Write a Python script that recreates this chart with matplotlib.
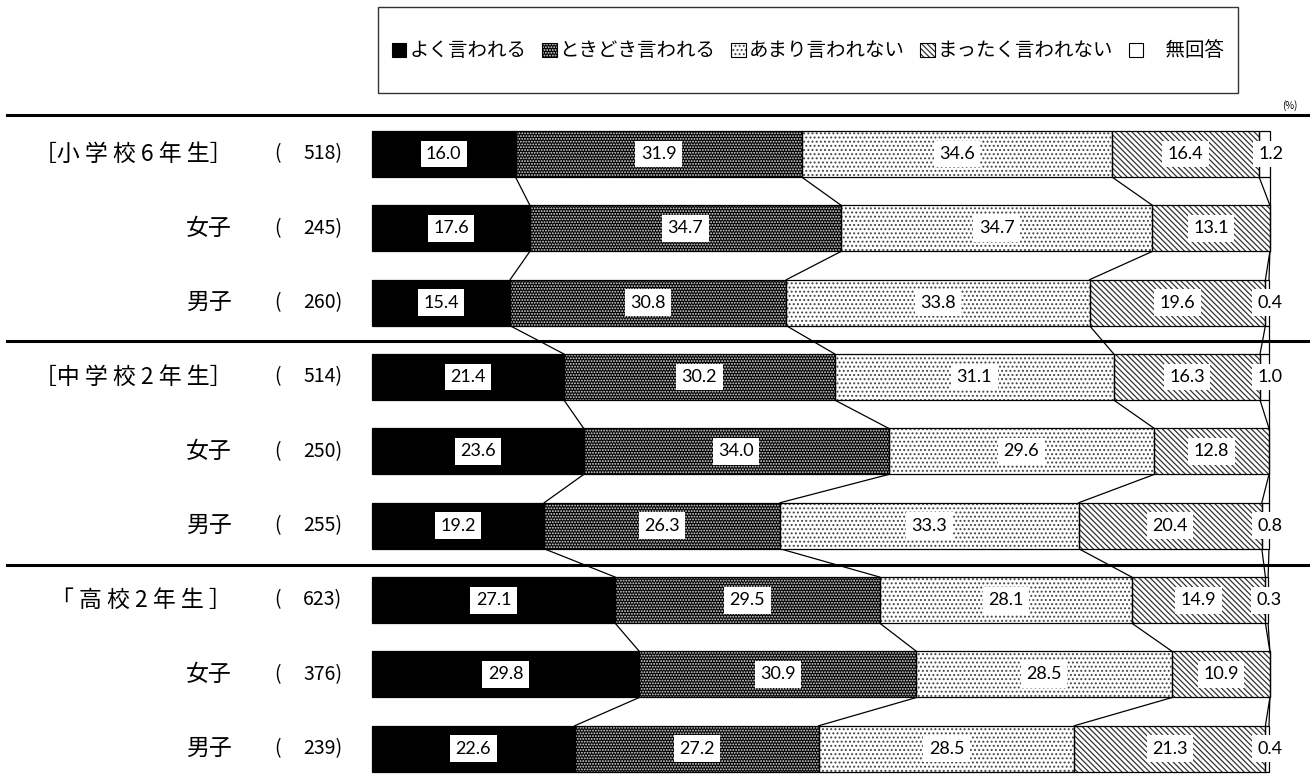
import matplotlib.pyplot as plt
from matplotlib.patches import Patch, Rectangle
from matplotlib.transforms import blended_transform_factory
import numpy as np

plt.rcParams['font.family'] = ['Noto Sans CJK JP', 'DejaVu Sans']
plt.rcParams['hatch.linewidth'] = 0.9

categories = ['よく言われる', 'ときどき言われる', 'あまり言われない', 'まったく言われない', '　無回答']
row_labels = ['［小 学 校 6 年 生］', '女子', '男子',
              '［中 学 校 2 年 生］', '女子', '男子',
              '「 高 校 2 年 生 ］', '女子', '男子']
counts = [518, 245, 260, 514, 250, 255, 623, 376, 239]

often = [16.0, 17.6, 15.4, 21.4, 23.6, 19.2, 27.1, 29.8, 22.6]
sometimes = [31.9, 34.7, 30.8, 30.2, 34.0, 26.3, 29.5, 30.9, 27.2]
rarely = [34.6, 34.7, 33.8, 31.1, 29.6, 33.3, 28.1, 28.5, 28.5]
never = [16.4, 13.1, 19.6, 16.3, 12.8, 20.4, 14.9, 10.9, 21.3]
no_answer = [1.2, 0.0, 0.4, 1.0, 0.0, 0.8, 0.3, 0.0, 0.4]

series = [often, sometimes, rarely, never, no_answer]
# face, hatch, hatch colour
styles = [('black', '', 'black'),
          ('black', '......', '#e0e0e0'),
          ('white', '....', '#444444'),
          ('white', '\\\\\\\\\\\\', '#333333'),
          ('white', '', 'black')]

W, H = 1310, 776
fig = plt.figure(figsize=(W / 100, H / 100), dpi=100)
ax = fig.add_axes([0, 0, 1, 1])
px = 8.97          # pixels per percent
x0 = 372           # pixel of 0 %
y0, dy = 154, 74.35
ax.set_xlim(-x0 / px, (W - x0) / px)
ax.set_ylim((H - y0) / dy, -y0 / dy)
ax.set_axis_off()

n = len(counts)
y = np.arange(n)
bh = 0.62
data = np.array(series)
cum = np.cumsum(data, axis=0)
left = cum - data

for k, (face, hatch, hcol) in enumerate(styles):
    ax.barh(y, data[k], left=left[k], height=bh, color=face, hatch=hatch,
            edgecolor=hcol, linewidth=0, zorder=2)
    ax.barh(y, data[k], left=left[k], height=bh, fill=False,
            edgecolor='black', linewidth=0.9, zorder=3)

# connector lines
for i in range(n - 1):
    for k in range(5):
        ax.plot([cum[k, i], cum[k, i + 1]], [i + bh / 2, i + 1 - bh / 2],
                color='black', lw=0.9, zorder=1)

# value labels
for i in range(n):
    for k in range(5):
        v = data[k, i]
        if v <= 0:
            continue
        xc = left[k, i] + v / 2
        if k == 4:
            xc = cum[k, i] + 0.1
        ax.text(xc, i, f'{v:.1f}', ha='center', va='center', fontsize=13,
                family=['Lato', 'DejaVu Sans'], zorder=5,
                bbox=dict(boxstyle='square,pad=0.3', fc='white', ec='none'))

# row labels
tr = blended_transform_factory(fig.transFigure, ax.transData)
for i in range(n):
    ax.text(232 / W, i, row_labels[i], transform=tr, ha='right', va='center',
            fontsize=16.5)
    ax.text(278 / W, i, '(', transform=tr, ha='center', va='center',
            fontsize=14)
    ax.text(342 / W, i, f'{counts[i]})', transform=tr, ha='right',
            va='center', fontsize=14)

# group separators
for yy in [-0.525, 2.515, 5.528]:
    ax.plot([7 / W, 1], [yy, yy], transform=tr, color='black', lw=2.2,
            zorder=4, clip_on=False)

fig.text(1290 / W, 1 - 106 / H, '(%)', ha='center', va='center', fontsize=7)

# legend
fig.add_artist(Rectangle((378 / W, 1 - 93 / H), 860 / W, 86 / H,
                         transform=fig.transFigure, fill=False,
                         edgecolor='#333333', lw=1))
handles = []
for face, hatch, hcol in styles:
    handles.append((Patch(facecolor=face, hatch=hatch, edgecolor=hcol, lw=0),
                    Patch(fill=False, edgecolor='black', lw=0.8)))
fig.legend(handles, categories, loc='center', ncol=5,
           bbox_to_anchor=(808 / W, 1 - 51 / H), frameon=False,
           fontsize=14, handlelength=0.75, handleheight=0.75,
           handletextpad=0.15, columnspacing=0.8)

fig.savefig('out.png', dpi=100)
